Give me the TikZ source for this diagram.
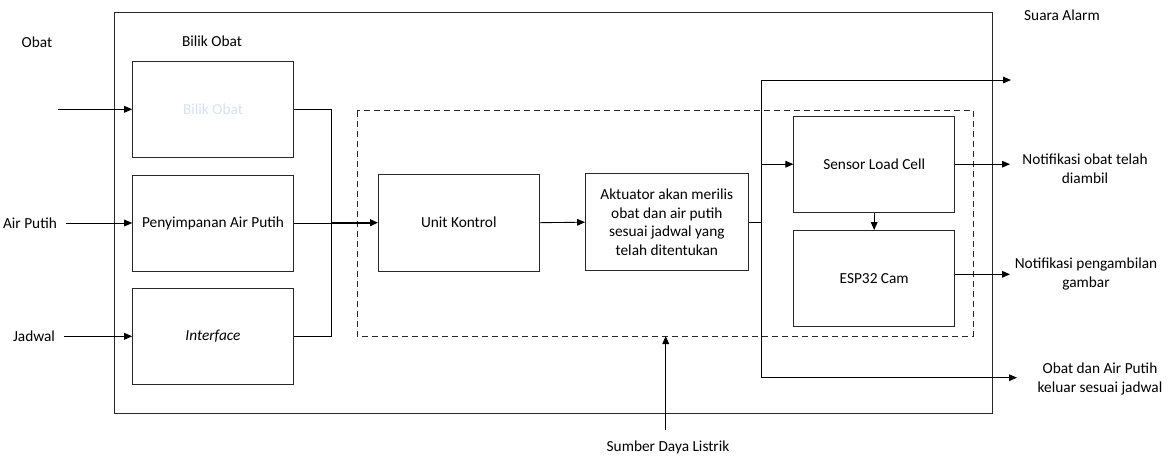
\documentclass[tikz,border=0pt]{standalone}
\usepackage{fontspec}
\setmainfont{Carlito}
\usetikzlibrary{arrows.meta, positioning}

\definecolor{faint}{RGB}{214,226,242}
\definecolor{garis}{RGB}{40,40,40}

\tikzset{
    blok/.style={draw=garis, line width=0.65pt, minimum width=120.5pt, minimum height=72pt, align=center, font=\fontsize{11.5}{14}\selectfont},
    teks/.style={align=center, font=\fontsize{11.5}{14}\selectfont},
    panah/.style={-{Triangle[length=6pt, width=5pt]}, line width=0.65pt, draw=black},
    sambung/.style={line width=0.65pt, draw=black},
}

\begin{document}
\begin{tikzpicture}[x=0.75pt, y=-0.75pt]
        \useasboundingbox (0,0) rectangle (1173,457);

        % kotak luar dan kotak putus-putus
        \draw[garis, line width=0.65pt] (114,12) rectangle (992,413);
        \draw[garis, line width=0.65pt, dash pattern=on 4.5pt off 3pt] (357.3,110.7) rectangle (973.3,336);

        % blok masukan
        \node[blok] (bilik) at (213,109.3) {\textcolor{faint}{Bilik Obat}};
        \node[blok] (simpan) at (213,223) {Penyimpanan Air Putih};
        \node[blok] (iface) at (213,336.3) {\textit{Interface}};

        % blok proses
        \node[blok, minimum height=72.5pt] (unit) at (458.8,222.7) {Unit Kontrol};
        \node[blok, minimum width=122pt, minimum height=73pt] (akt) at (666.8,222.2) {Aktuator akan merilis\\obat dan air putih\\sesuai jadwal yang\\telah ditentukan};
        \node[blok] (sensor) at (874.2,164.2) {Sensor Load Cell};
        \node[blok] (esp) at (874.2,278.5) {ESP32 Cam};

        % label
        \node[teks] (obat) at (37,42) {Obat};
        \node[teks] (judul) at (212,41) {Bilik Obat};
        \node[teks] (air) at (30,223) {Air Putih};
        \node[teks] (jadwal) at (34,336.3) {Jadwal};
        \node[teks] (alarm) at (1062,15) {Suara Alarm};
        \node[teks] (notif1) at (1085,169) {Notifikasi obat telah\\diambil};
        \node[teks] (notif2) at (1086,274) {Notifikasi pengambilan\\gambar};
        \node[teks] (keluar) at (1100,379) {Obat dan Air Putih\\keluar sesuai jadwal};
        \node[teks] (sumber) at (668,447) {Sumber Daya Listrik};

        \coordinate (obatin) at (58,109.3);
        \coordinate (alarmout) at (1011,80);
        \coordinate (n1out) at (1010,164.2);
        \coordinate (n2out) at (1010,274.3);
        \coordinate (keluarout) at (1017,377.7);
        \coordinate (sumberin) at (665.7,430);

        % masukan
        \draw[panah] (obatin) -- (bilik.west);
        \draw[panah] ([xshift=3pt]air.east |- simpan.west) -- (simpan.west);
        \draw[panah] ([xshift=3pt]jadwal.east |- iface.west) -- (iface.west);

        % bus ke unit kontrol
        \draw[sambung] (bilik.east) -- (331,109.3) -- (331,336.3) -- (iface.east);
        \draw[sambung] (simpan.east) -- (331,223);
        \draw[panah, line width=1.3pt] (331,222.7) -- (unit.west);
        \draw[panah] (unit.east) -- (akt.west);

        % keluaran aktuator
        \draw[sambung] (akt.east) -- (761.7,222.2);
        \draw[panah] (761.7,222.2) |- (alarmout);
        \draw[panah] (761.7,222.2) |- (keluarout);
        \draw[panah] (761.7,164.2) -- (sensor.west);
        \draw[panah] (sensor.south) -- (esp.north);
        \draw[panah] (sensor.east) -- (n1out);
        \draw[panah] (esp.east |- n2out) -- (n2out);

        % sumber daya
        \draw[panah] (sumberin) -- (665.7,336);
    \end{tikzpicture}
\end{document}
